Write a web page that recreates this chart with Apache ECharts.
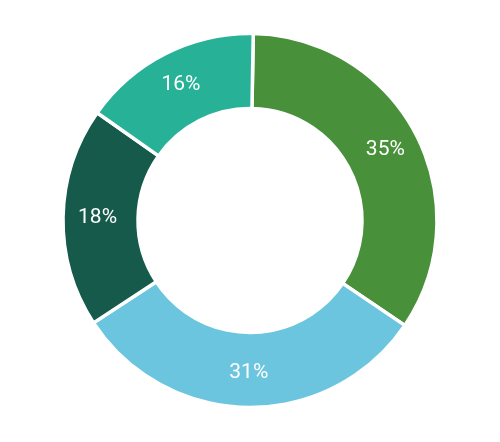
<!DOCTYPE html>
<html><head><meta charset="utf-8">
<script src="https://cdn.jsdelivr.net/npm/echarts@6/dist/echarts.min.js"></script>
<style>html,body{margin:0;padding:0;background:#fff}#c{width:500px;height:442px}</style>
</head><body><div id="c"></div>
<script>
const categories = ['A', 'B', 'C', 'D'];
const values = [34.2, 31.3, 19.0, 15.5];
// percentage labels as printed on the slices
const labels = ['35%', '31%', '18%', '16%'];
const colors = ['#48903a', '#6cc5de', '#155a4b', '#27b298'];
const chart = echarts.init(document.getElementById('c'), null, {renderer: 'canvas'});
chart.setOption({
  animation: false,
  series: [{
    type: 'pie',
    center: [250, 220.5],
    radius: [112, 187],
    startAngle: 89,
    clockwise: true,
    data: categories.map((c, i) => ({name: c, value: values[i], itemStyle: {color: colors[i]}})),
    itemStyle: {borderColor: '#fff', borderWidth: 3.5},
    label: {
      position: 'inside',
      formatter: p => labels[p.dataIndex],
      color: '#fff',
      fontFamily: 'Roboto',
      fontSize: 21,
      textBorderWidth: 0
    },
    labelLine: {show: false},
    emphasis: {disabled: true}
  }]
});
</script></body></html>
